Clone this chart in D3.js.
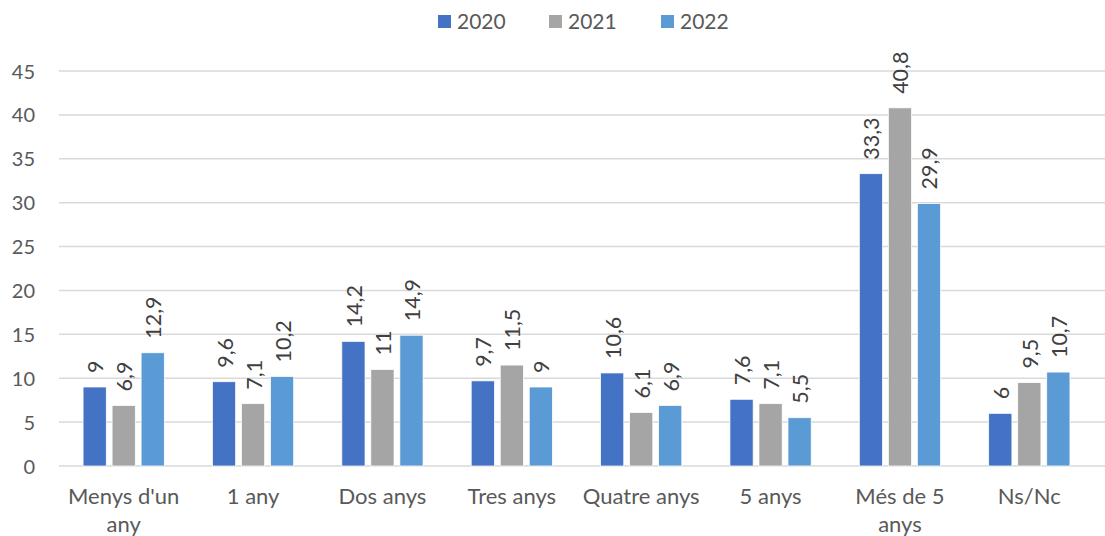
<!DOCTYPE html>
<html>
<head>
<meta charset="utf-8">
<script src="https://cdn.jsdelivr.net/npm/d3@7"></script>
<style>
  html, body { margin: 0; padding: 0; background: #fff; }
  svg { display: block; font-family: Lato, "Open Sans", sans-serif; }
</style>
</head>
<body>
<svg id="chart" width="1105" height="536"></svg>
<script>
// Years of residence, share of respondents (%)
const categories = ["Menys d'un any", "1 any", "Dos anys", "Tres anys", "Quatre anys", "5 anys", "Més de 5 anys", "Ns/Nc"];
const series = ["2020", "2021", "2022"];
const values2020 = [9, 9.6, 14.2, 9.7, 10.6, 7.6, 33.3, 6];
const values2021 = [6.9, 7.1, 11, 11.5, 6.1, 7.1, 40.8, 9.5];
const values2022 = [12.9, 10.2, 14.9, 9, 6.9, 5.5, 29.9, 10.7];
const yTicks = [0, 5, 10, 15, 20, 25, 30, 35, 40, 45];
const colors = ["#4472C4", "#A5A5A5", "#5B9BD5"];

const valuesBySeries = [values2020, values2021, values2022];
const rows = categories.map((c, i) => ({
  category: c,
  values: series.map((s, j) => ({ series: s, value: valuesBySeries[j][i], color: colors[j] }))
}));

const svg = d3.select("#chart");
const plotLeft = 59, plotRight = 1094, plotTop = 71, plotBottom = 466;

const y = d3.scaleLinear().domain([0, 45]).range([plotBottom, plotTop]);
const x0 = d3.scaleBand().domain(categories).range([plotLeft, plotRight])
  .paddingInner(0.372).paddingOuter(0.186);
const x1 = d3.scaleBand().domain(series).range([0, x0.bandwidth()]).paddingInner(0.2);

// Horizontal gridlines
svg.append("g").selectAll("line").data(yTicks).join("line")
  .attr("x1", plotLeft).attr("x2", 1105)
  .attr("y1", d => y(d)).attr("y2", d => y(d))
  .attr("stroke", "#D9D9D9").attr("stroke-width", 1.5);

// Y axis labels
const yAxis = d3.axisLeft(y).tickValues(yTicks).tickSize(0).tickPadding(0);
const gy = svg.append("g").attr("transform", "translate(35,0)").call(yAxis);
gy.select(".domain").remove();
gy.selectAll("text")
  .attr("font-family", "Lato, sans-serif").attr("font-size", 20)
  .attr("fill", "#595959").attr("dy", "0.35em");

// Bars
const groups = svg.append("g").selectAll("g").data(rows).join("g")
  .attr("transform", d => `translate(${x0(d.category)},0)`);

groups.selectAll("rect").data(d => d.values).join("rect")
  .attr("x", d => x1(d.series))
  .attr("y", d => y(d.value))
  .attr("width", x1.bandwidth())
  .attr("height", d => y(0) - y(d.value))
  .attr("fill", d => d.color)
  .attr("stroke", "#fff").attr("stroke-width", 0.75);

// Value labels, rotated
groups.selectAll("text").data(d => d.values).join("text")
  .attr("transform", d => `translate(${x1(d.series) + x1.bandwidth() / 2 + 1},${y(d.value) - 14}) rotate(-90)`)
  .attr("text-anchor", "start")
  .attr("dy", "0.35em")
  .attr("font-size", 21.5)
  .attr("fill", "#404040")
  .text(d => String(d.value).replace(".", ","));

// Category labels with wrapping
const xAxis = d3.axisBottom(x0).tickSize(0).tickPadding(0);
const gx = svg.append("g").attr("transform", `translate(0,${plotBottom})`).call(xAxis);
gx.select(".domain").remove();
gx.selectAll("text")
  .attr("font-family", "Lato, sans-serif").attr("font-size", 22)
  .attr("fill", "#595959")
  .attr("y", 38).attr("dy", null)
  .each(function (d) {
    const t = d3.select(this);
    const words = d.split(" ");
    t.text(null);
    let line = [];
    let tspan = t.append("tspan").attr("x", 0).attr("y", 38);
    let lineNo = 0;
    words.forEach(w => {
      line.push(w);
      tspan.text(line.join(" "));
      if (tspan.node().getComputedTextLength() > 122 && line.length > 1) {
        line.pop();
        tspan.text(line.join(" "));
        line = [w];
        lineNo++;
        tspan = t.append("tspan").attr("x", 0).attr("y", 38 + lineNo * 28).text(w);
      }
    });
  });

// Legend
const legendX = [438, 549, 661];
const legend = svg.append("g").selectAll("g").data(series).join("g")
  .attr("transform", (d, i) => `translate(${legendX[i]},15)`);
legend.append("rect").attr("width", 13).attr("height", 13)
  .attr("fill", (d, i) => colors[i]);
legend.append("text").attr("x", 19).attr("y", 7).attr("dy", "0.35em")
  .attr("font-size", 21).attr("fill", "#595959").text(d => d);
</script>
</body>
</html>
